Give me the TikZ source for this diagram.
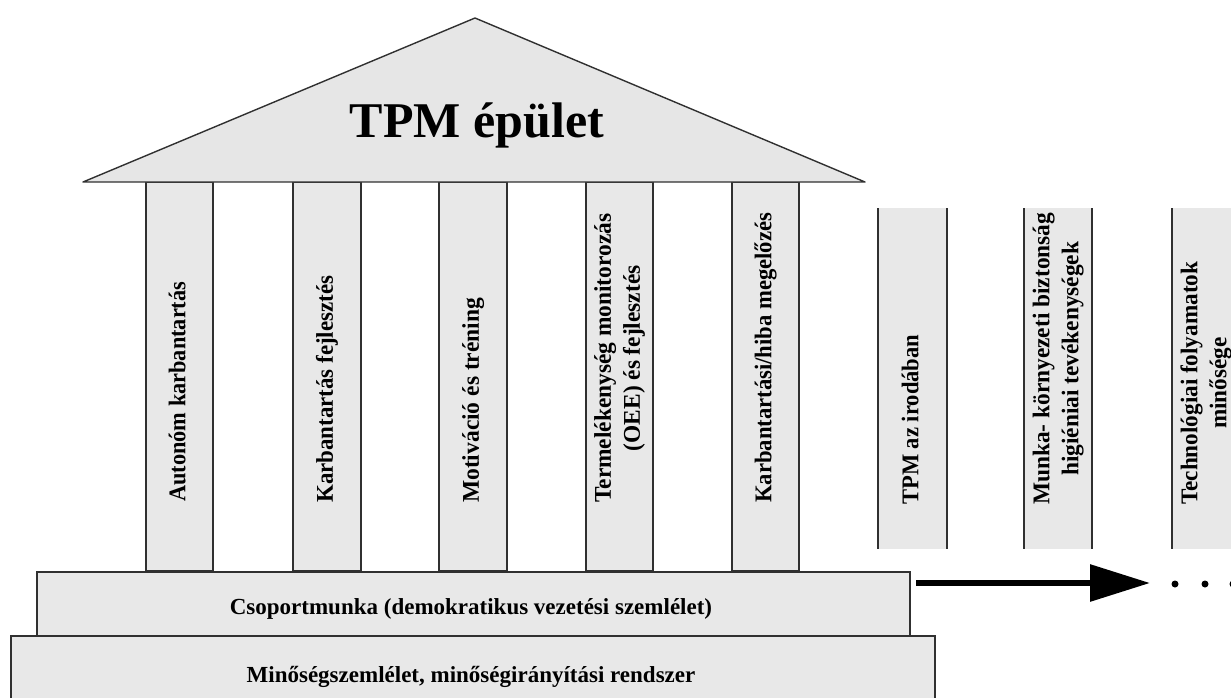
\documentclass[tikz,border=0pt]{standalone}
\usepackage{graphicx}
\usepackage{fontspec}
\setmainfont{Liberation Serif}
\usetikzlibrary{arrows.meta}
\definecolor{stone}{HTML}{E8E8E8}
\definecolor{roofgray}{HTML}{E6E6E6}
\definecolor{edge}{HTML}{303030}
% set a (possibly two-line) label to a given run length
\newcommand{\runlen}[2]{\resizebox{#1}{\height}{\begin{tabular}{@{}c@{}}#2\end{tabular}}}

\begin{document}
\begin{tikzpicture}[x=1pt,y=-1pt,
  block/.style={draw=edge, line width=1.6pt, fill=stone, inner sep=0pt, outer sep=0pt},
  pillar/.style={block, minimum width=#1, minimum height=389pt},
  sidepillar/.style={fill=stone, inner sep=0pt, outer sep=0pt, minimum width=#1, minimum height=341pt},
  sideline/.style={draw=edge, line width=1.6pt},
  ptext/.style={rotate=90, anchor=west, inner sep=0pt,
    font=\fontsize{24}{29}\selectfont\bfseries},
  basetext/.style={anchor=base, inner sep=0pt, font=\fontsize{23}{27}\selectfont\bfseries},
  bigarrow/.style={line width=6pt, -{Triangle[length=60pt,width=36pt]}}
]
\useasboundingbox (0,0) rectangle (1231,697);
\clip (0,0) rectangle (1231,697);

% foundation steps
\node[block, minimum width=924pt, minimum height=70pt] (b2) at (473,671) {};
\node[block, minimum width=873pt, minimum height=64pt] (b1) at (473.5,604) {};
\node[basetext] (b1t) at (471,614) {Csoportmunka (demokratikus vezetési szemlélet)};
\node[basetext] (b2t) at (471,682) {Minőségszemlélet, minőségirányítási rendszer};

% pillars under the roof
\node[pillar=67pt] (p1) at (179.5,376.5) {};
\node[pillar=68pt] (p2) at (327,376.5) {};
\node[pillar=68pt] (p3) at (473,376.5) {};
\node[pillar=67pt] (p4) at (619.5,376.5) {};
\node[pillar=67pt] (p5) at (765.5,376.5) {};

\node[ptext] (p1t) at ([yshift=69pt]p1.south) {\runlen{220pt}{Autonóm karbantartás}};
\node[ptext] (p2t) at ([yshift=68pt]p2.south) {\runlen{227pt}{Karbantartás fejlesztés}};
\node[ptext] (p3t) at ([yshift=68pt]p3.south) {\runlen{205pt}{Motiváció és tréning}};
\node[ptext] (p4t) at ([yshift=68pt]p4.south) {\runlen{289pt}{Termelékenység monitorozás\\(OEE) és fejlesztés}};
\node[ptext] (p5t) at ([yshift=68pt]p5.south) {\runlen{290pt}{Karbantartási/hiba megelőzés}};

% roof
\coordinate (eaveL) at (83,182);
\coordinate (apex) at (475,18);
\coordinate (eaveR) at (865,182);
\draw[draw=edge, line width=1.4pt, fill=roofgray, line join=round] (eaveL) -- (apex) -- (eaveR) -- cycle;
\node[anchor=base, inner sep=0pt, font=\fontsize{50}{60}\selectfont\bfseries] (title) at (477,137) {TPM épület};

% further pillars to the right
\node[sidepillar=69pt] (r1) at (912.5,378.5) {};
\node[sidepillar=68pt] (r2) at (1058,378.5) {};
\node[sidepillar=68pt] (r3) at (1206,378.5) {};
\foreach \r in {r1,r2,r3}{
  \draw[sideline] (\r.north west) -- (\r.south west);
  \draw[sideline] (\r.north east) -- (\r.south east);
}
\node[ptext] (r1t) at ([yshift=44pt]r1.south) {\runlen{170pt}{TPM az irodában}};
\node[ptext] (r2t) at ([yshift=44pt]r2.south) {\runlen{292pt}{Munka- környezeti biztonság\\higiéniai tevékenységek}};
\node[ptext] (r3t) at ([yshift=44pt]r3.south) {\runlen{243pt}{Technológiai folyamatok\\minősége}};

% continuation arrow
\coordinate (arrend) at (1150,583);
\draw[bigarrow] ([xshift=6pt]b1.east |- arrend) -- (arrend);
\foreach \dx in {1175,1205,1233}{
  \fill (\dx,584) circle (3.5pt);
}
\end{tikzpicture}
\end{document}
